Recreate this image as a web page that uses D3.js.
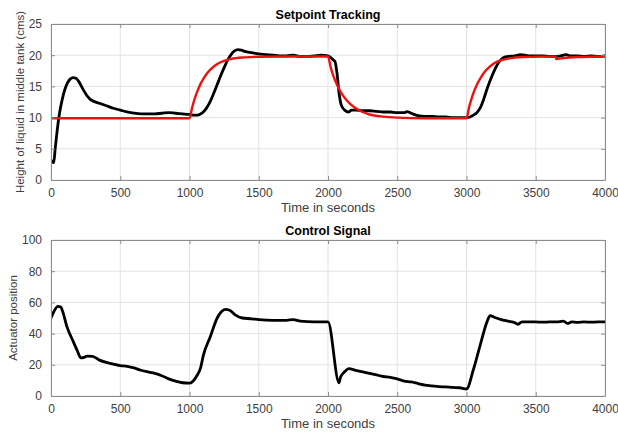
<!DOCTYPE html>
<html>
<head>
<meta charset="utf-8">
<script src="https://cdn.jsdelivr.net/npm/d3@7"></script>
<style>
html,body{margin:0;padding:0;background:#fff;}
svg{display:block;}
text{font-family:"Liberation Sans",Arial,Helvetica,sans-serif;}
</style>
</head>
<body>
<svg id="chart" width="618" height="433"></svg>
<script>
// ---------- DATA ----------
const xTicks = [0, 500, 1000, 1500, 2000, 2500, 3000, 3500, 4000];
const yTicksTop = [0, 5, 10, 15, 20, 25];
const yTicksBottom = [0, 20, 40, 60, 80, 100];

const titleTop = "Setpoint Tracking";
const titleBottom = "Control Signal";
const xLabel = "Time in seconds";
const yLabelTop = "Height of liquid in middle tank (cms)";
const yLabelBottom = "Actuator position";

// measured height (black)
const tHeight = [0,10,20,30,45,60,80,100,120,140,160,180,200,220,240,260,280,300,350,400,450,500,550,600,650,700,750,800,850,900,950,1000,1030,1060,1080,1100,1125,1150,1175,1200,1225,1250,1275,1300,1325,1350,1375,1400,1450,1500,1550,1600,1650,1700,1750,1800,1850,1900,1950,2000,2020,2040,2050,2065,2080,2096,2120,2150,2170,2200,2250,2300,2350,2400,2450,2500,2550,2570,2600,2650,2700,2750,2800,2850,2900,2950,3000,3025,3050,3075,3100,3125,3150,3175,3200,3225,3250,3275,3300,3350,3390,3450,3500,3550,3600,3640,3660,3700,3720,3750,3800,3850,3900,3950,4000];
const hMeasured = [3.2,2.9,2.8,5.0,8.0,10.5,12.8,14.5,15.6,16.2,16.4,16.3,15.8,15.0,14.2,13.5,13.0,12.7,12.3,11.9,11.5,11.2,10.9,10.7,10.6,10.6,10.6,10.7,10.8,10.7,10.6,10.5,10.4,10.4,10.6,10.9,11.6,12.6,13.9,15.3,16.7,18.0,19.2,20.1,20.7,20.9,20.8,20.6,20.4,20.2,20.1,20.0,19.9,19.9,20.0,19.8,19.8,19.9,20.0,19.9,19.6,19.2,19.0,17.1,13.9,12.0,11.2,10.9,11.2,11.2,11.1,11.1,11.0,10.9,10.9,10.8,10.8,10.95,10.7,10.3,10.2,10.2,10.1,10.1,10.0,10.0,10.0,10.1,10.4,10.8,11.6,13.0,14.7,16.2,17.5,18.6,19.3,19.7,19.8,19.9,20.1,19.9,19.9,19.9,19.8,19.8,19.8,20.0,20.1,19.9,19.9,19.8,19.9,19.8,19.9];

// setpoint reference (red)
const tSetpoint = [0,1000,1020,1040,1060,1080,1100,1130,1160,1200,1250,1300,1400,1500,1700,2000,2020,2040,2060,2080,2100,2130,2160,2200,2250,2300,2400,2500,2700,3000,3020,3040,3060,3080,3100,3130,3160,3200,3250,3300,3400,3500,3644,3646,3700,3800,4000];
const hSetpoint = [9.9,9.9,11.7,13.2,14.4,15.4,16.2,17.2,17.9,18.6,19.1,19.4,19.65,19.75,19.8,19.8,18.0,16.6,15.5,14.6,13.8,12.9,12.2,11.5,10.9,10.5,10.15,10.0,9.9,9.9,11.8,13.3,14.5,15.5,16.3,17.3,18.0,18.7,19.2,19.45,19.7,19.75,19.8,19.4,19.55,19.7,19.8];

// control signal (black)
const tControl = [0,20,50,70,85,113,160,190,215,240,260,300,350,400,450,500,550,600,650,700,750,800,850,900,950,1000,1020,1050,1080,1100,1150,1200,1230,1260,1290,1330,1380,1450,1500,1600,1700,1750,1800,1900,2000,2080,2090,2120,2150,2200,2250,2300,2350,2400,2450,2500,2550,2600,2650,2700,2750,2800,2850,2900,2950,3000,3050,3100,3150,3170,3200,3250,3300,3350,3370,3400,3450,3500,3550,3600,3650,3700,3730,3760,3800,3850,3900,3950,4000];
const uControl = [50,54,57.5,57,54,45,35,29,24.5,24.8,25.5,25.4,23,21.5,20.5,19.5,19,18,16.5,15.5,14.5,13,11,9.5,8.5,8.2,9,12.5,18,26,38,50,54,55.5,55,52,50,49.5,49,48.5,48.5,49,48,47.5,47.5,8.5,12,15.5,17.5,16.5,15.5,14.5,13.5,12.5,12,11,9.5,9,8,7,6.5,6,5.8,5.5,5.3,4.5,17,33,48,51.5,50.5,49,48,47,46,47.5,47.5,47.5,47.3,47.5,47.5,48,46.5,47.5,47.2,47.5,47.3,47.5,47.5];

// ---------- LAYOUT ----------
const svg = d3.select("#chart");
const axisColor = "#8c8c8c";
const gridColor = "#e3e3e3";
const tickTextColor = "#404040";

function panel(opts) {
  const {left, right, top, bottom, yDomain, yTicks, title, yLabel, yLabelX, series} = opts;
  const x = d3.scaleLinear().domain([0, 4000]).range([left, right]);
  const y = d3.scaleLinear().domain(yDomain).range([bottom, top]);
  const g = svg.append("g");

  // grid
  g.selectAll(".gx").data(xTicks).join("line")
    .attr("x1", d => x(d)).attr("x2", d => x(d))
    .attr("y1", top).attr("y2", bottom)
    .attr("stroke", gridColor).attr("stroke-width", 1);
  g.selectAll(".gy").data(yTicks).join("line")
    .attr("x1", left).attr("x2", right)
    .attr("y1", d => y(d)).attr("y2", d => y(d))
    .attr("stroke", gridColor).attr("stroke-width", 1);

  // series
  const clipId = "clip" + Math.round(top);
  svg.append("clipPath").attr("id", clipId).append("rect")
    .attr("x", left).attr("y", top - 2).attr("width", right - left).attr("height", bottom - top + 4);
  series.forEach(s => {
    const pts = s.t.map((t, i) => [t, s.v[i]]);
    g.append("path")
      .datum(pts)
      .attr("clip-path", `url(#${clipId})`)
      .attr("fill", "none")
      .attr("stroke", s.color)
      .attr("stroke-width", s.width)
      .attr("stroke-linejoin", "round")
      .attr("stroke-linecap", "round")
      .attr("d", d3.line().x(d => x(d[0])).y(d => y(d[1])).curve(d3.curveMonotoneX));
  });

  // axes (inward ticks, box)
  const tickLen = 4;
  const axB = d3.axisBottom(x).tickValues(xTicks).tickSizeInner(-tickLen).tickSizeOuter(0).tickPadding(8).tickFormat(d3.format("d"));
  const axT = d3.axisTop(x).tickValues(xTicks).tickSizeInner(-tickLen).tickSizeOuter(0).tickFormat("");
  const axL = d3.axisLeft(y).tickValues(yTicks).tickSizeInner(-tickLen).tickSizeOuter(0).tickPadding(9).tickFormat(d3.format("d"));
  const axR = d3.axisRight(y).tickValues(yTicks).tickSizeInner(-tickLen).tickSizeOuter(0).tickFormat("");

  const gb = g.append("g").attr("transform", `translate(0,${bottom})`).call(axB);
  const gt = g.append("g").attr("transform", `translate(0,${top})`).call(axT);
  const gl = g.append("g").attr("transform", `translate(${left},0)`).call(axL);
  const gr = g.append("g").attr("transform", `translate(${right},0)`).call(axR);
  [gb, gt, gl, gr].forEach(a => {
    a.select(".domain").attr("stroke", axisColor).attr("stroke-width", 1);
    a.selectAll(".tick line").attr("stroke", axisColor);
    a.selectAll(".tick text").attr("fill", tickTextColor)
      .style("font-family", '"Liberation Sans", Arial, sans-serif').style("font-size", "12px");
  });

  // title
  g.append("text").attr("x", (left + right) / 2).attr("y", top - 5)
    .attr("text-anchor", "middle").style("font-weight", "bold").style("font-size", "12.5px")
    .attr("fill", "#000").text(title);
  // x label
  g.append("text").attr("x", (left + right) / 2).attr("y", bottom + 32)
    .attr("text-anchor", "middle").style("font-size", "13px").attr("fill", tickTextColor).text(xLabel);
  // y label
  g.append("text").attr("transform", `translate(${yLabelX},${(top + bottom) / 2}) rotate(-90)`)
    .attr("text-anchor", "middle").style("font-size", "11.5px").attr("fill", tickTextColor).text(yLabel);
}

panel({
  left: 51, right: 605, top: 24, bottom: 180,
  yDomain: [0, 25], yTicks: yTicksTop, title: titleTop,
  yLabel: yLabelTop, yLabelX: 24,
  series: [
    {t: tHeight, v: hMeasured, color: "#000", width: 2.8},
    {t: tSetpoint, v: hSetpoint, color: "#ee1111", width: 2.4}
  ]
});

panel({
  left: 51, right: 605, top: 240, bottom: 396,
  yDomain: [0, 100], yTicks: yTicksBottom, title: titleBottom,
  yLabel: yLabelBottom, yLabelX: 17,
  series: [
    {t: tControl, v: uControl, color: "#000", width: 2.8}
  ]
});
</script>
</body>
</html>
